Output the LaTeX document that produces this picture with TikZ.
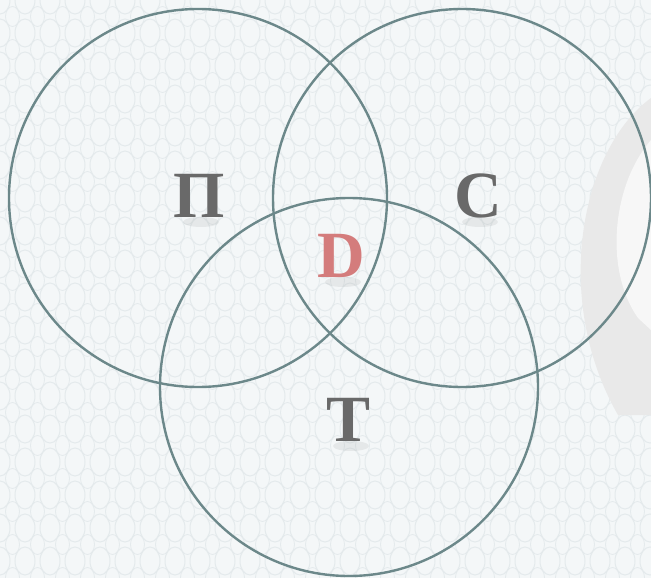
\documentclass[tikz,border=0pt]{standalone}
\usepackage{fontspec}
\setmainfont{Liberation Serif}
\usepackage{tikz}
\usetikzlibrary{positioning,calc}
\definecolor{RingTeal}{RGB}{108,136,138}
\definecolor{LetterGray}{RGB}{105,105,105}
\definecolor{LetterRed}{RGB}{212,124,124}
\definecolor{PaperTint}{RGB}{244,247,248}
\definecolor{LatticeLine}{RGB}{228,234,236}

\tikzset{
  ring/.style={circle,draw=RingTeal,line width=2.4pt,minimum size=378pt,inner sep=0pt},
  letter/.style={font=\fontsize{66}{66}\selectfont\bfseries,text=LetterGray,inner sep=0pt},
  blot/.style={fill=gray,opacity=0.12}
}

\begin{document}
\begin{tikzpicture}[x=1pt,y=-1pt]
  \useasboundingbox (0,0) rectangle (651,578);
  \fill[PaperTint] (0,0) rectangle (651,578);
  % faint lattice in the paper
  \foreach \i in {0,...,26}
    \foreach \j in {0,...,18}{
      \draw[LatticeLine,line width=1pt] (\i*25,\j*33) ellipse (10pt and 14pt);
      \draw[LatticeLine,line width=0.8pt] (\i*25+12.5,\j*33+16.5) ellipse (7pt and 10pt);
    }
  % grey swirl at the right edge
  \fill[gray!17] (651,98) .. controls (580,150) and (552,300) .. (618,415) -- (651,415) -- cycle;
  \fill[gray!6] (651,140) .. controls (612,185) and (604,270) .. (638,318) -- (651,330) -- cycle;

  \node[ring] (P) at (198,198) {};
  \node[ring] (S) at (462,198) {};
  \node[ring] (T) at (349,387) {};

  % soft shadows under the letters
  \foreach \x/\y in {201/222,480/222,343/282,351/446}
    \fill[blot] (\x,\y) ellipse (18pt and 5pt);

  \node[letter] (lP) at (199,196) {П};
  \node[letter] (lS) at (478,196) {С};
  \node[letter,text=LetterRed] (lD) at (341,256) {D};
  \node[letter] (lT) at (349,420) {Т};
\end{tikzpicture}
\end{document}
